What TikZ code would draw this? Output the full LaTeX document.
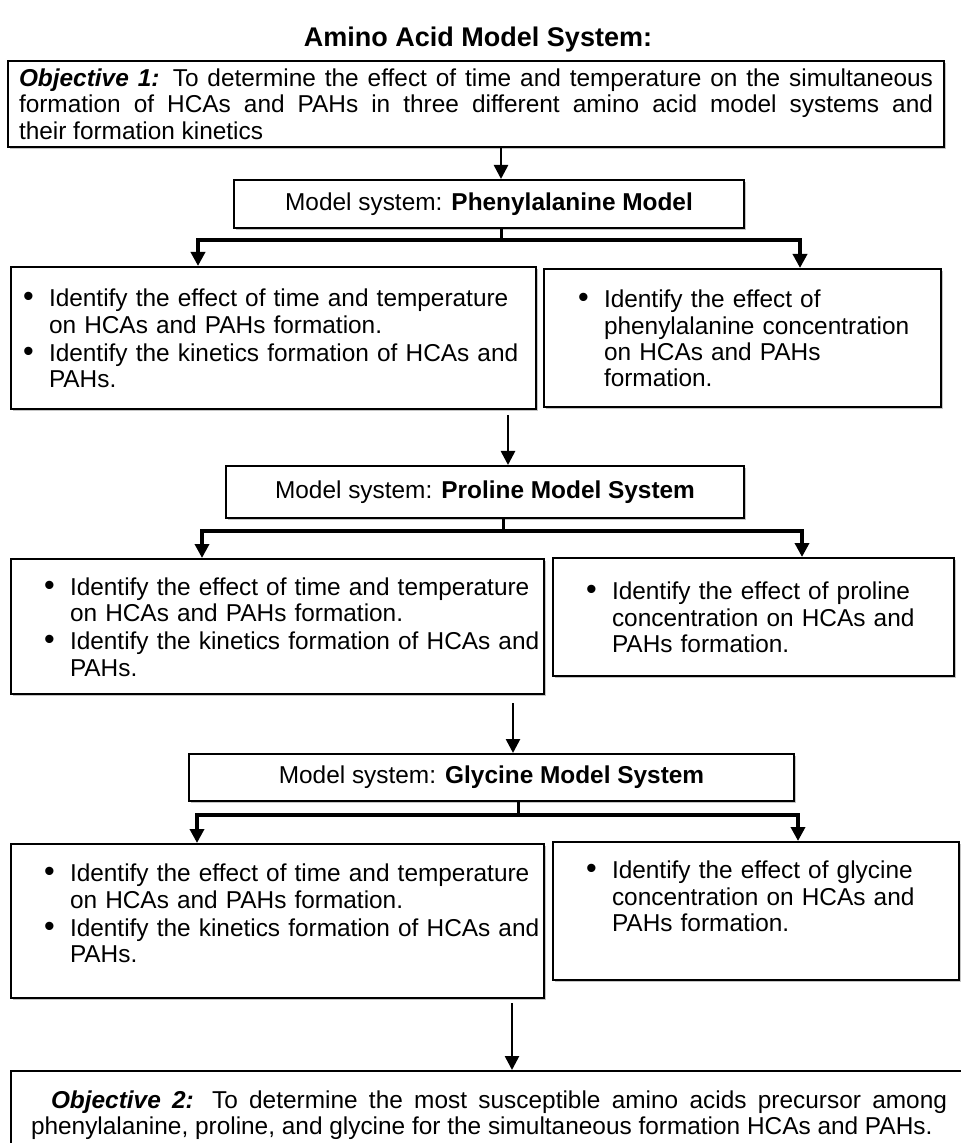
\documentclass[tikz,border=0pt]{standalone}
\usepackage{fontspec}
\usepackage{graphicx}
\setmainfont{Liberation Sans}
\usetikzlibrary{arrows.meta, positioning, shadows}
\tolerance=9999
% bullet line, optional left offset, lines broken by \\
\newcommand{\bitem}[2][0pt]{\par\noindent\hspace*{#1}\makebox[13pt][l]{\scalebox{1.25}{\textbullet}}%
  \begin{tabular}[t]{@{}l@{}}#2\end{tabular}\par}
% extra room under the last line
\newcommand{\padbelow}[1]{\par\nointerlineskip\hbox{\rule{0pt}{#1}}}

\begin{document}
\begin{tikzpicture}[x=0.5pt, y=-0.5pt,
  box/.style={draw, line width=1pt, fill=white, anchor=north west,
    inner xsep=4pt, inner ysep=0pt, align=left,
    font=\fontsize{12.2}{13.2}\selectfont,
    drop shadow={shadow xshift=1pt, shadow yshift=-1pt,
      fill=black!45, opacity=0.5}},
  objbox/.style={box, align=justify},
  sysbox/.style={box, align=center, inner xsep=0pt},
  arr/.style={-{Triangle[length=7pt, width=7pt]}, line width=1.3pt},
  fork/.style={{Triangle[length=7pt, width=7pt]}-{Triangle[length=7pt, width=7pt]},
    line width=2pt},
  stub/.style={line width=1.5pt},
]
\fill[white] (0,0) rectangle (960,1143);
\useasboundingbox (0,0) rectangle (960,1143);

\node[font=\fontsize{13.5}{15}\selectfont\bfseries] (title) at (478,40)
  {Amino Acid Model System:};

% objective 1
\node[objbox, text width=457pt, inner xsep=5.5pt, minimum height=43pt] (obj1) at (7,60)
  {\textbf{\textit{Objective 1:}} To determine the effect of time and temperature
   on the simultaneous\linebreak formation of HCAs and PAHs in three different amino
   acid model systems and\linebreak their formation kinetics};

% phenylalanine
\node[sysbox, minimum width=255pt, minimum height=24pt] (phe) at (233,179)
  {Model system: \textbf{Phenylalanine Model}};
\node[box, text width=254.5pt, minimum height=71pt] (l1) at (10,266)
  {\bitem[2pt]{Identify the effect of time and temperature\\ on HCAs and PAHs formation.}
   \bitem[2pt]{Identify the kinetics formation of HCAs and\\ PAHs.}};
\node[box, text width=190.5pt, minimum height=69pt] (r1) at (543,268)
  {\bitem[13pt]{Identify the effect of\\ phenylalanine concentration\\ on HCAs and PAHs\\ formation.}};

% proline
\node[sysbox, minimum width=259pt, minimum height=26pt] (pro) at (225,465)
  {Model system: \textbf{Proline Model System}};
\node[box, text width=258.5pt, minimum height=67.5pt] (l2) at (10,558)
  {\bitem[12.5pt]{Identify the effect of time and temperature\\ on HCAs and PAHs formation.}
   \bitem[12.5pt]{Identify the kinetics formation of HCAs and\\ PAHs.}};
\node[box, text width=192.5pt, minimum height=59pt] (r2) at (552,557)
  {\bitem[12.5pt]{Identify the effect of proline\\ concentration on HCAs and\\ PAHs formation.}};

% glycine
\node[sysbox, minimum width=302.5pt, minimum height=23.5pt] (gly) at (188,753)
  {Model system: \textbf{Glycine Model System}};
\node[box, text width=258.5pt, minimum height=77pt] (l3) at (10,843)
  {\bitem[12.5pt]{Identify the effect of time and temperature\\ on HCAs and PAHs formation.}
   \bitem[12.5pt]{Identify the kinetics formation of HCAs and\\ PAHs.}\padbelow{8pt}};
\node[box, text width=195pt, minimum height=69pt] (r3) at (552,841)
  {\bitem[12.5pt]{Identify the effect of glycine\\ concentration on HCAs and\\ PAHs formation.}\padbelow{15pt}};

% objective 2
\node[objbox, text width=458pt, inner xsep=10pt, minimum height=44pt] (obj2) at (10,1070)
  {\noindent\hspace*{10pt}\textbf{\textit{Objective 2:}} To determine
   the most susceptible amino acids precursor among\linebreak phenylalanine, proline,
   and glycine for the simultaneous formation HCAs and PAHs.};

% junctions
\coordinate (j1) at (501,240);
\coordinate (b1l) at (198,240);
\coordinate (b1r) at (800,240);
\coordinate (a2) at (508,415);
\coordinate (j2) at (503,531);
\coordinate (b2l) at (202,531);
\coordinate (b2r) at (802,531);
\coordinate (a3) at (513,703);
\coordinate (j3) at (518,815);
\coordinate (b3l) at (197,815);
\coordinate (b3r) at (798,815);
\coordinate (a4) at (512,1003);

\draw[arr] (obj1.south -| j1) -- (phe.north -| j1);
\draw[stub] (phe.south -| j1) -- (j1);
\draw[fork] (l1.north -| b1l) -- (b1l) -- (b1r) -- (r1.north -| b1r);

\draw[arr] (a2) -- (pro.north -| a2);
\draw[stub] (pro.south -| j2) -- (j2);
\draw[fork] (l2.north -| b2l) -- (b2l) -- (b2r) -- (r2.north -| b2r);

\draw[arr] (a3) -- (gly.north -| a3);
\draw[stub] (gly.south -| j3) -- (j3);
\draw[fork] (l3.north -| b3l) -- (b3l) -- (b3r) -- (r3.north -| b3r);

\draw[arr] (a4) -- (obj2.north -| a4);
\end{tikzpicture}
\end{document}
